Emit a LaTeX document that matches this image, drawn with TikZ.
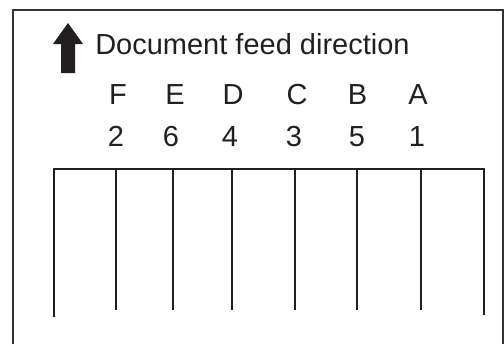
\documentclass[tikz,border=0pt]{standalone}
\usepackage{fontspec}
\setmainfont{Liberation Sans}
\usetikzlibrary{positioning,calc}
\definecolor{inkdark}{HTML}{231F20}
\definecolor{framegray}{HTML}{333333}
\tikzset{
  frameline/.style={draw=framegray, line width=0.9pt},
  trayedge/.style={draw=inkdark, line width=1.6pt},
  slotline/.style={draw=inkdark, line width=0.8pt},
  feedarrow/.style={fill=inkdark, draw=none},
  lbl/.style={font=\fontsize{21.75}{26}\selectfont, text=inkdark,
    inner sep=0pt, anchor=base},
}
\begin{document}
\begin{tikzpicture}[x=0.75pt,y=0.75pt]
  \useasboundingbox (0,0) rectangle (504,344);
  % outer frame, open at the bottom
  \draw[frameline] (13,0) -- (13,334) -- (503,334) -- (503,0);
  % feed direction arrow and caption
  \fill[feedarrow] (61,271) -- (61,300) -- (53,300) -- (68,321)
    -- (83,300) -- (75,300) -- (75,271) -- cycle;
  \node[lbl, anchor=base west] (feed) at (95,290) {Document feed direction};
  % slot letters and numbers
  \foreach \n/\l/\d/\xl/\xd in {f/F/2/118/116, e/E/6/175/171, d/D/4/233/230,
      c/C/3/297/294, b/B/5/357.5/357, a/A/1/418/417} {
    \node[lbl] (let\n) at (\xl,240) {\l};
    \node[lbl] (num\n) at (\xd,198) {\d};
  }
  % tray with slot separators
  \draw[trayedge] (54,27) -- (54,175) -- (484,175) -- (484,29);
  \foreach \x in {116,173,232,295,357,421} {
    \draw[slotline] (\x,175) -- (\x,34);
  }
\end{tikzpicture}
\end{document}
